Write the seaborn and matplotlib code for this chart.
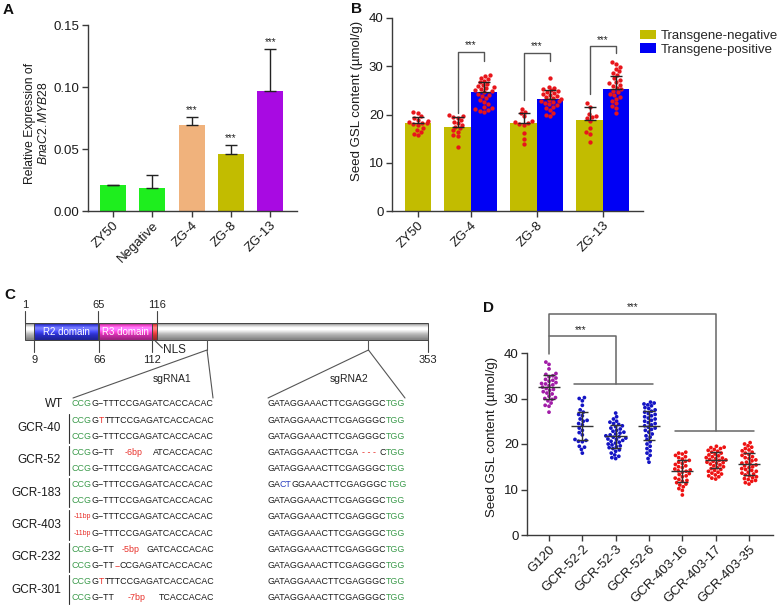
import numpy as np
import pandas as pd
import matplotlib
matplotlib.use('Agg')
import matplotlib.pyplot as plt
import seaborn as sns

sns.set_theme(style='ticks')
plt.rcParams['font.family'] = ['Liberation Sans', 'DejaVu Sans']
plt.rcParams['mathtext.fontset'] = 'custom'
plt.rcParams['mathtext.rm'] = 'Liberation Sans'
plt.rcParams['mathtext.it'] = 'Liberation Sans:italic'
plt.rcParams['axes.edgecolor'] = '#3a3a3a'
plt.rcParams['axes.linewidth'] = 1.0
plt.rcParams['xtick.color'] = '#3a3a3a'
plt.rcParams['ytick.color'] = '#3a3a3a'
plt.rcParams['xtick.labelcolor'] = '#1a1a1a'
plt.rcParams['ytick.labelcolor'] = '#1a1a1a'
plt.rcParams['axes.labelcolor'] = '#1a1a1a'

# ---------------- 데이터 ----------------
# A: 상대 발현량
a_groups = ['ZY50', 'Negative', 'ZG-4', 'ZG-8', 'ZG-13']
a_values = [0.021, 0.0183, 0.0694, 0.0462, 0.097]
a_err = [0.0003, 0.0107, 0.0063, 0.0070, 0.0335]
a_colors = ['#1EEE1E', '#1EEE1E', '#F0B27C', '#C2BC00', '#A80AE2']
a_sig = ['', '', '***', '***', '***']

# B: 종자 GSL 함량 (형질전환 음성/양성)
b_labels = ['ZY50', 'ZG-4', 'ZG-8', 'ZG-13']
b_bar_line = ['ZY50', 'ZG-4', 'ZG-4', 'ZG-8', 'ZG-8', 'ZG-13', 'ZG-13']
b_bar_type = ['Transgene-negative', 'Transgene-negative', 'Transgene-positive',
              'Transgene-negative', 'Transgene-positive',
              'Transgene-negative', 'Transgene-positive']
b_means = [18.2, 17.5, 24.6, 18.3, 23.2, 18.9, 25.3]
b_sd = [1.3, 1.9, 2.1, 2.1, 1.9, 2.6, 2.7]
b_points = [
    [20.6, 20.4, 19.6, 19.2, 18.9, 18.6, 18.4, 18.3, 18.2, 18.1, 17.9, 17.2, 16.8, 16.4, 16.0, 15.7],
    [19.9, 19.6, 19.5, 19.2, 18.8, 18.5, 18.2, 17.9, 17.5, 17.2, 16.7, 16.4, 15.7, 15.5, 13.3],
    [28.1, 27.9, 27.6, 27.3, 27.0, 26.7, 26.4, 26.1, 25.9, 25.6, 25.4, 25.2, 25.0, 24.8,
     24.6, 24.3, 24.1, 23.8, 23.4, 23.0, 22.6, 22.1, 21.6, 21.3, 21.1, 20.9, 20.7, 20.5],
    [21.2, 20.6, 20.3, 19.6, 18.6, 18.4, 18.2, 18.0, 17.8, 16.1, 15.0, 13.8],
    [27.5, 25.8, 25.5, 25.2, 25.0, 24.8, 24.6, 24.4, 24.2, 24.0, 23.8, 23.6, 23.4, 23.2,
     23.0, 22.9, 22.7, 22.5, 22.3, 22.1, 21.9, 21.6, 21.3, 20.9, 20.3, 19.9, 19.7],
    [22.3, 21.6, 20.1, 19.6, 19.4, 19.3, 18.6, 17.1, 16.4, 16.0, 14.3],
    [30.8, 30.4, 29.9, 29.5, 29.0, 28.6, 28.2, 27.6, 27.1, 26.8, 26.5, 26.2, 25.9, 25.5,
     25.2, 24.9, 24.6, 24.3, 24.0, 23.6, 23.2, 22.8, 22.3, 21.8, 21.3, 20.3],
]
b_colors = {'Transgene-negative': '#C2BC00', 'Transgene-positive': '#0000F5'}
# 유의성 괄호 (음성 다리 하단, 양성 다리 하단, 상단)
b_sig_groups = ['ZG-4', 'ZG-8', 'ZG-13']
b_sig_left_bottom = [20.3, 23.0, 24.2]
b_sig_right_bottom = [31.1, 31.1, 32.7]
b_sig_top = [33.0, 32.8, 34.1]

# D: 편집 계통 종자 GSL 함량
d_groups = ['G120', 'GCR-52-2', 'GCR-52-3', 'GCR-52-6', 'GCR-403-16', 'GCR-403-17', 'GCR-403-35']
d_colors = ['#A21CA8', '#1414C4', '#1414C4', '#1414C4', '#EE1212', '#EE1212', '#EE1212']
d_means = [32.5, 24.0, 21.7, 24.0, 14.1, 16.5, 15.6]
d_sd = [2.7, 3.1, 2.5, 3.2, 2.4, 1.7, 2.4]
d_points = [
    [38.0, 37.5, 36.5, 35.5, 35.3, 35.0, 34.8, 34.5, 34.2, 34.0, 33.8, 33.5, 33.3, 33.2, 33.0, 32.8,
     32.5, 32.2, 32.0, 31.8, 31.5, 31.2, 31.0, 30.5, 30.2, 30.0, 29.8, 29.5, 29.0, 28.5, 28.3, 27.0],
    [30.2, 30.0, 29.5, 28.5, 27.5, 27.0, 26.5, 26.2, 25.5, 25.2, 25.0, 24.5, 24.2, 23.5, 23.0,
     22.5, 22.0, 21.0, 20.8, 20.6, 20.5, 19.5, 19.3, 18.8, 18.0],
    [26.8, 26.0, 25.5, 25.0, 24.8, 24.5, 24.3, 24.0, 23.8, 23.5, 23.3, 23.0, 22.8, 22.6, 22.4, 22.2,
     22.0, 21.8, 21.6, 21.5, 21.3, 21.1, 21.0, 20.8, 20.6, 20.4, 20.2, 20.0, 19.8, 19.6, 19.4, 19.2,
     19.0, 18.7, 18.4, 18.0, 17.6, 17.3, 17.0, 16.8],
    [29.2, 29.0, 28.8, 28.6, 28.4, 28.0, 27.8, 27.5, 27.2, 27.0, 26.7, 26.5, 26.2, 26.0, 25.7, 25.5,
     25.2, 25.0, 24.7, 24.5, 24.2, 24.0, 23.7, 23.5, 23.2, 23.0, 22.6, 22.2, 21.8, 21.5, 21.0, 20.5,
     20.0, 19.5, 19.0, 18.5, 18.0, 17.5, 16.8, 16.0],
    [18.2, 18.0, 17.8, 17.5, 17.2, 17.0, 16.7, 16.4, 16.2, 16.0, 15.7, 15.5, 15.2, 15.0, 14.8, 14.5,
     14.3, 14.1, 14.0, 13.8, 13.5, 13.3, 13.0, 12.8, 12.5, 12.2, 12.0, 11.8, 11.5, 11.2, 11.0, 10.6,
     10.2, 9.8, 8.8],
    [19.5, 19.3, 19.2, 19.0, 18.8, 18.6, 18.4, 18.2, 18.0, 17.8, 17.6, 17.4, 17.2, 17.0, 16.9, 16.8,
     16.6, 16.5, 16.4, 16.2, 16.0, 15.9, 15.8, 15.6, 15.4, 15.2, 15.0, 14.8, 14.6, 14.4, 14.2, 14.0,
     13.8, 13.6, 13.4, 13.2, 13.0, 12.8, 12.5, 12.3],
    [20.3, 20.0, 19.6, 19.3, 19.0, 18.7, 18.5, 18.2, 18.0, 17.7, 17.5, 17.2, 17.0, 16.8, 16.5, 16.3,
     16.0, 15.8, 15.6, 15.4, 15.2, 15.0, 14.8, 14.6, 14.4, 14.2, 14.0, 13.8, 13.6, 13.4, 13.2, 13.0,
     12.8, 12.6, 12.4, 12.2, 12.0, 11.8, 11.5, 11.2],
]

# C: 단백질 구조 및 편집 서열
prot_len = 353
domains = [('R2 domain', 9, 65, (0.20, 0.22, 0.95)),
           ('R3 domain', 66, 112, (1.00, 0.22, 0.82)),
           ('', 112, 116, (1.00, 0.25, 0.25))]
top_marks = [1, 65, 116]
bottom_marks = [9, 66, 112, 353]
sgrna_sites = [160, 301]
line_names = ['WT', 'GCR-40', 'GCR-52', 'GCR-183', 'GCR-403', 'GCR-232', 'GCR-301']

GR = '#3A9A4A'
BK = '#1a1a1a'
RD = '#E8302A'
BL = '#2B3FC0'
# (서열, 색) / 결실 구간은 (None, None, 라벨)
seq1_rows = [
    [('CCG', GR), ('G−TTTCCGAGATCACCACAC', BK)],
    [('CCG', GR), ('G', BK), ('T', RD), ('TTTCCGAGATCACCACAC', BK)],
    [('CCG', GR), ('G−TTTCCGAGATCACCACAC', BK)],
    [('CCG', GR), ('G−TT', BK), (None, None, '-6bp'), ('ATCACCACAC', BK)],
    [('CCG', GR), ('G−TTTCCGAGATCACCACAC', BK)],
    [('CCG', GR), ('G−TTTCCGAGATCACCACAC', BK)],
    [('CCG', GR), ('G−TTTCCGAGATCACCACAC', BK)],
    [(None, None, '-11bp'), ('G−TTTCCGAGATCACCACAC', BK)],
    [(None, None, '-11bp'), ('G−TTTCCGAGATCACCACAC', BK)],
    [('CCG', GR), ('G−TT', BK), (None, None, '-5bp'), ('GATCACCACAC', BK)],
    [('CCG', GR), ('G−TT', BK), ('−', RD), ('CCGAGATCACCACAC', BK)],
    [('CCG', GR), ('G', BK), ('T', RD), ('TTTCCGAGATCACCACAC', BK)],
    [('CCG', GR), ('G−TT', BK), (None, None, '-7bp'), ('TCACCACAC', BK)],
]
seq2_normal = [('GATAGGAAACTTCGAGGGC', BK), ('TGG', GR)]
seq2_rows = [seq2_normal, seq2_normal, seq2_normal,
             [('GATAGGAAACTTCGA', BK), (None, None, '- - -'), ('C', BK), ('TGG', GR)],
             seq2_normal,
             [('GA', BK), ('CT', BL), ('GGAAACTTCGAGGGC', BK), ('TGG', GR)],
             seq2_normal, seq2_normal, seq2_normal, seq2_normal, seq2_normal,
             seq2_normal, seq2_normal]

# ---------------- 그림 ----------------
W, H = 777, 605
fig = plt.figure(figsize=(W / 100, H / 100), dpi=100)


def px_axes(left, top, right, bottom):
    return fig.add_axes([left / W, 1 - bottom / H, (right - left) / W, (bottom - top) / H])


def style_axis(ax):
    sns.despine(ax=ax)
    ax.tick_params(axis='both', length=4, width=1, labelsize=9.5, pad=2)


def rotate_xlabels(ax):
    for lbl in ax.get_xticklabels():
        lbl.set(rotation=45, ha='right', rotation_mode='anchor')


# ===== A =====
axA = px_axes(88, 25, 297, 211)
sns.barplot(x=a_groups, y=a_values, hue=a_groups, palette=a_colors, width=0.66,
            saturation=1, legend=False, linewidth=0, ax=axA)
axA.errorbar(range(len(a_groups)), a_values, yerr=[np.zeros(len(a_err)), a_err],
             fmt='none', ecolor='#222222', elinewidth=1, capsize=4, capthick=1)
for i, (v, e, s) in enumerate(zip(a_values, a_err, a_sig)):
    if s:
        axA.annotate(s, xy=(i, v + e), xytext=(0, 1.5), textcoords='offset points',
                     ha='center', va='bottom', fontsize=7, color='#222222')
axA.set_ylim(0, 0.15)
axA.set_yticks([0, 0.05, 0.10, 0.15], ['0.00', '0.05', '0.10', '0.15'])
axA.set_xlim(-0.63, 4.68)
axA.set_ylabel('Relative Expression of\n$\\mathit{BnaC2.MYB28}$', fontsize=8.7, linespacing=1.1)
axA.yaxis.set_label_coords(-0.18, 0.47)
style_axis(axA)
rotate_xlabels(axA)

# ===== B =====
axB = px_axes(392, 18, 643, 211)
group_center = {b_labels[0]: 0.0}
for k, g in enumerate(b_labels[1:]):
    group_center[g] = 2.0 + 2.5 * k
b_pos = []
for line, typ in zip(b_bar_line, b_bar_type):
    c = group_center[line]
    if b_bar_line.count(line) == 1:
        b_pos.append(c)
    else:
        b_pos.append(c - 0.5 if typ == 'Transgene-negative' else c + 0.5)

bars = pd.DataFrame({'pos': b_pos, 'mean': b_means, 'type': b_bar_type})
sns.barplot(data=bars, x='pos', y='mean', hue='type', native_scale=True, dodge=False,
            width=1.0, palette=b_colors, saturation=1, errorbar=None, linewidth=0, ax=axB)
pts = pd.DataFrame({'pos': np.repeat(b_pos, [len(p) for p in b_points]),
                    'val': np.concatenate(b_points)})
sns.swarmplot(data=pts, x='pos', y='val', native_scale=True, color='#E8151B', size=3.1,
              ax=axB, zorder=4)
axB.errorbar(b_pos, b_means, yerr=[np.zeros(len(b_sd)), b_sd], fmt='none', ecolor='#222222',
             elinewidth=1, capsize=4, capthick=1, zorder=5)
for g, lb, rb, tp in zip(b_sig_groups, b_sig_left_bottom, b_sig_right_bottom, b_sig_top):
    xl, xr = group_center[g] - 0.5, group_center[g] + 0.5
    axB.plot([xl, xl, xr, xr], [lb, tp, tp, rb], color='#555555', lw=1)
    axB.text(group_center[g], tp + 0.3, '***', ha='center', va='bottom', fontsize=7, color='#222222')
axB.set_xlim(-0.98, 8.52)
axB.set_ylim(0, 40)
axB.set_xticks([group_center[g] for g in b_labels], b_labels)
axB.set_yticks([0, 10, 20, 30, 40])
axB.set_xlabel('')
axB.set_ylabel('Seed GSL content (µmol/g)', fontsize=9.5)
axB.yaxis.set_label_coords(-0.115, 0.57)
style_axis(axB)
rotate_xlabels(axB)
sns.move_legend(axB, 'upper left', bbox_to_anchor=(0.99, 0.94), frameon=False, title=None,
                fontsize=9.5, handlelength=1.15, handleheight=0.7, handletextpad=0.35,
                labelspacing=0.12, borderaxespad=0, borderpad=0)

# ===== D =====
axD = px_axes(527, 353, 773, 535)
dfD = pd.DataFrame({'line': np.repeat(d_groups, [len(p) for p in d_points]),
                    'val': np.concatenate(d_points)})
sns.swarmplot(data=dfD, x='line', y='val', hue='line', order=d_groups, palette=d_colors,
              size=2.7, legend=False, ax=axD)
for i, (m, s) in enumerate(zip(d_means, d_sd)):
    axD.hlines(m, i - 0.33, i + 0.33, color='#333333', lw=1, zorder=5)
    axD.hlines([m - s, m + s], i - 0.17, i + 0.17, color='#333333', lw=1, zorder=5)
    axD.vlines(i, m - s, m + s, color='#333333', lw=1, zorder=5)
# 유의성 괄호
brk = dict(color='#666666', lw=1.1, clip_on=False)
axD.plot([0, 0, 5, 5], [39.8, 48.6, 48.6, 22.8], **brk)
axD.plot([3.78, 6.16], [22.8, 22.8], **brk)
axD.plot([0, 2, 2], [43.7, 43.7, 33.1], **brk)
axD.plot([0.75, 3.12], [33.1, 33.1], **brk)
axD.text(2.5, 48.9, '***', ha='center', va='bottom', fontsize=7, color='#222222', clip_on=False)
axD.text(0.95, 44.0, '***', ha='center', va='bottom', fontsize=7, color='#222222', clip_on=False)
axD.set_xlim(-0.66, 6.72)
axD.set_ylim(0, 40)
axD.set_yticks([0, 10, 20, 30, 40])
axD.set_xlabel('')
axD.set_ylabel('Seed GSL content (µmol/g)', fontsize=9.5)
axD.yaxis.set_label_coords(-0.118, 0.54)
style_axis(axD)
rotate_xlabels(axD)

# ===== C =====
axC = fig.add_axes([0, 0, 440 / W, 320 / H])
axC.axis('off')

x_start, x_end = 25, 428
bar_top, bar_bot = 323, 340


def aa_x(aa):
    return x_start + (aa - 1) * (x_end - x_start) / (prot_len - 1)


shade = np.array([0.70, 0.86, 0.97, 1.0, 0.95, 0.88, 0.80, 0.72, 0.62])
hl = np.array([0.0, 0.12, 0.28, 0.22, 0.10, 0.03, 0.0, 0.0, 0.0])


def grad_box(x0, x1, base):
    img = np.clip(np.array(base)[None, :] * shade[:, None] + hl[:, None], 0, 1)
    axC.imshow(img[:, None, :], extent=(x0, x1, bar_bot, bar_top), aspect='auto',
               interpolation='bilinear', zorder=1)
    axC.add_patch(plt.Rectangle((x0, bar_top), x1 - x0, bar_bot - bar_top, fill=False,
                                ec='#444444', lw=0.7, zorder=2))


grad_box(aa_x(1), aa_x(prot_len), (0.84, 0.84, 0.84))
for name, a0, a1, col in domains:
    grad_box(aa_x(a0), aa_x(a1), col)
    if name:
        axC.text((aa_x(a0) + aa_x(a1)) / 2, (bar_top + bar_bot) / 2 + 0.5, name, color='white',
                 fontsize=7, ha='center', va='center', zorder=3)
axC.set_xlim(0, 440)
axC.set_ylim(605, 285)

for aa in top_marks:
    axC.plot([aa_x(aa)] * 2, [311, bar_top], color='#444444', lw=0.8)
    axC.text(aa_x(aa), 305, str(aa), ha='center', va='center', fontsize=8, color='#222222')
for aa in bottom_marks:
    axC.plot([aa_x(aa)] * 2, [bar_bot, 352], color='#444444', lw=0.8)
    axC.text(aa_x(aa), 360, str(aa), ha='center', va='center', fontsize=8, color='#222222')
axC.plot([aa_x(114), aa_x(114) + 8], [bar_bot, 348], color='#444444', lw=0.8)
axC.text(aa_x(114) + 9, 350, 'NLS', ha='left', va='center', fontsize=8.5, color='#222222')

seq_x = [72, 267]
row_y0, row_dy = 404, 16.14
seq_ends = [213, 405]
for k, aa in enumerate(sgrna_sites):
    sx = aa_x(aa)
    axC.plot([sx, sx], [bar_bot, 350], color='#555555', lw=0.8)
    axC.plot([seq_x[k] + 1, sx, seq_ends[k]], [398, 350, 398], color='#555555', lw=0.8)
    axC.text((seq_x[k] + seq_ends[k]) / 2 + (30 if k == 0 else 13), 379, f'sgRNA{k + 1}',
             ha='center', va='center', fontsize=7.5, color='#222222')

SEQ = 6.4
renderer = fig.canvas.get_renderer()
inv = axC.transData.inverted()


def x_of(artist, side):
    bb = artist.get_window_extent(renderer)
    return inv.transform((bb.x1 if side == 'right' else bb.x0, bb.y0))[0]


def chain_from_left(x, y, parts):
    arts = []
    for text, color in parts:
        if not arts:
            t = axC.text(x, y, text, color=color, fontsize=SEQ, ha='left', va='center')
        else:
            t = axC.annotate(text, xy=(1, 0), xycoords=arts[-1], color=color, fontsize=SEQ,
                             ha='left', va='bottom')
        arts.append(t)
    return arts


def chain_from_right(x, y, parts):
    arts = []
    for text, color in reversed(parts):
        if not arts:
            t = axC.text(x, y, text, color=color, fontsize=SEQ, ha='right', va='center')
        else:
            t = axC.annotate(text, xy=(0, 0), xycoords=arts[-1], color=color, fontsize=SEQ,
                             ha='right', va='bottom')
        arts.append(t)
    return arts[::-1]


def draw_seq(x, y, parts, wt_end):
    cut = next((i for i, p in enumerate(parts) if p[0] is None), None)
    if cut is None:
        return chain_from_left(x, y, parts)
    prefix, label, tail = parts[:cut], parts[cut][2], parts[cut + 1:]
    left = x
    if prefix:
        left = x_of(chain_from_left(x, y, prefix)[-1], 'right')
    tail_arts = chain_from_right(wt_end, y, tail)
    right = x_of(tail_arts[0], 'left')
    axC.text((left + right) / 2, y, label, color=RD, fontsize=5 if label == '-11bp' else SEQ,
             ha='center', va='center')


for col, rows in enumerate([seq1_rows, seq2_rows]):
    wt_arts = chain_from_left(seq_x[col], row_y0, rows[0])
    wt_end = x_of(wt_arts[-1], 'right')
    for r in range(1, len(rows)):
        draw_seq(seq_x[col], row_y0 + r * row_dy, rows[r], wt_end)

axC.text(63, row_y0, line_names[0], ha='right', va='center', fontsize=8.5, color='#1a1a1a')
for j, name in enumerate(line_names[1:]):
    y1 = row_y0 + (1 + 2 * j) * row_dy
    y2 = y1 + row_dy
    axC.text(61, (y1 + y2) / 2, name, ha='right', va='center', fontsize=8.5, color='#1a1a1a')
    axC.plot([69, 69], [y1 - 6.5, y2 + 6.5], color='#333333', lw=0.8)

# 패널 라벨
for lab, x, y in [('A', 8, 10), ('B', 356, 9), ('C', 10, 295), ('D', 489, 308)]:
    fig.text(x / W, 1 - y / H, lab, fontsize=11, fontweight='bold', ha='center', va='center',
             color='#111111')

fig.savefig('out.png', dpi=100)
